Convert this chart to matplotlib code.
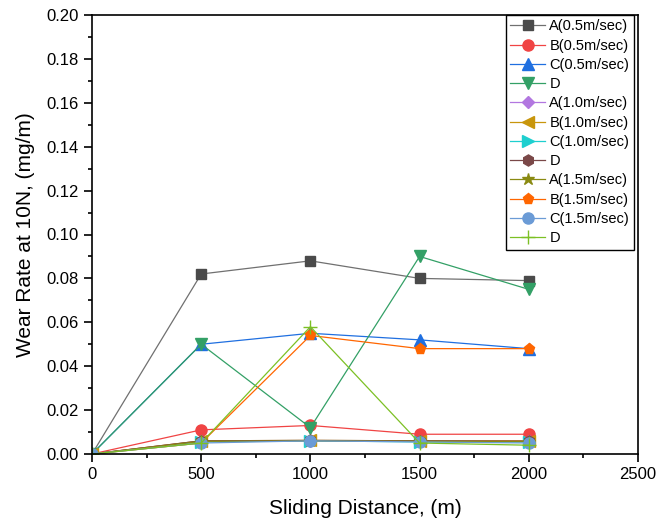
import matplotlib
matplotlib.use("Agg")
import matplotlib.pyplot as plt
from matplotlib.ticker import MultipleLocator, FormatStrFormatter

plt.rcParams['font.family'] = ['Liberation Sans', 'DejaVu Sans']

# Datos
distancia = [0, 500, 1000, 1500, 2000]

etiquetas = ['A(0.5m/sec)', 'B(0.5m/sec)', 'C(0.5m/sec)', 'D',
             'A(1.0m/sec)', 'B(1.0m/sec)', 'C(1.0m/sec)', 'D',
             'A(1.5m/sec)', 'B(1.5m/sec)', 'C(1.5m/sec)', 'D']

desgaste = [
    [0, 0.082, 0.088, 0.080, 0.079],
    [0, 0.011, 0.013, 0.009, 0.009],
    [0, 0.050, 0.055, 0.052, 0.048],
    [0, 0.050, 0.012, 0.090, 0.075],
    [0, 0.006, 0.006, 0.006, 0.006],
    [0, 0.006, 0.0062, 0.006, 0.006],
    [0, 0.0055, 0.006, 0.0055, 0.0055],
    [0, 0.006, 0.0062, 0.006, 0.0058],
    [0, 0.0058, 0.006, 0.0058, 0.0056],
    [0, 0.005, 0.054, 0.048, 0.048],
    [0, 0.005, 0.006, 0.0055, 0.005],
    [0, 0.005, 0.058, 0.005, 0.004],
]

colores = ['#4a4a4a', '#f04444', '#1f6fe0', '#33a066',
           '#b277e0', '#c8960c', '#1ecfcf', '#7a4848',
           '#8a8a12', '#ff6600', '#6b9bd6', '#7cc024']
lineas = ['#707070', '#f04444', '#1f6fe0', '#33a066',
          '#b277e0', '#c8960c', '#1ecfcf', '#7a4848',
          '#8a8a12', '#ff6600', '#6b9bd6', '#7cc024']
marcadores = ['s', 'o', '^', 'v', 'D', '<', '>', 'h', '*', 'p', 'o', '+']
tamanos = [7, 8, 8, 9, 6, 8, 8, 8, 9, 8, 8, 10]

fig = plt.figure(figsize=(6.59, 5.25), dpi=100)
ax = fig.add_axes([92 / 659, 1 - 454 / 525, (638 - 92) / 659, (454 - 15) / 525])

for y, lab, c, lc, m, ms in zip(desgaste, etiquetas, colores, lineas, marcadores, tamanos):
    ax.plot(distancia, y, color=lc, linewidth=0.9, marker=m, markersize=ms,
            markerfacecolor=c, markeredgecolor=c, markeredgewidth=1.0, label=lab)

ax.set_xlim(0, 2500)
ax.set_ylim(0, 0.20)
ax.xaxis.set_major_locator(MultipleLocator(500))
ax.xaxis.set_minor_locator(MultipleLocator(250))
ax.yaxis.set_major_locator(MultipleLocator(0.02))
ax.yaxis.set_minor_locator(MultipleLocator(0.01))
ax.yaxis.set_major_formatter(FormatStrFormatter('%.2f'))
ax.tick_params(which='both', direction='out', labelsize=12, width=1.2)
ax.tick_params(which='major', length=6)
ax.tick_params(which='minor', length=3)
for s in ax.spines.values():
    s.set_linewidth(1.2)

ax.set_xlabel('Sliding Distance, (m)', fontsize=15, labelpad=12)
ax.set_ylabel('Wear Rate at 10N, (mg/m)', fontsize=15, labelpad=8)

leg = ax.legend(loc='upper right', bbox_to_anchor=(0.992, 1.0), fontsize=10.5,
                frameon=True, fancybox=False, edgecolor='black', framealpha=1,
                handlelength=2.4, labelspacing=0.36, borderpad=0.3,
                handletextpad=0.3, borderaxespad=0)
leg.get_frame().set_linewidth(1.0)

fig.savefig('out.png', dpi=100, facecolor='white')
